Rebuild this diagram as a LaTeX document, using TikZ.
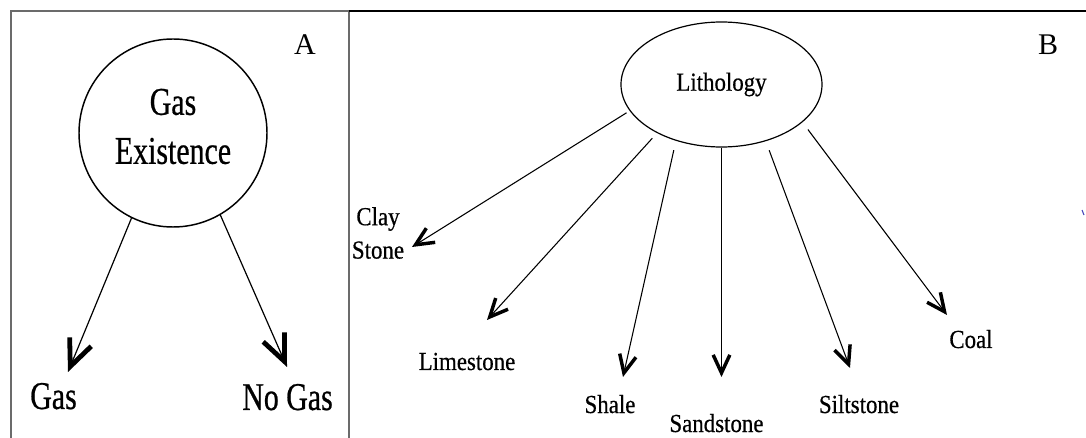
\documentclass[tikz,border=0pt]{standalone}
\usepackage{fontspec}
\setmainfont{Liberation Serif}
\newfontfamily\condA[FakeStretch=0.76,FakeBold=0.6]{Liberation Serif}
\newfontfamily\condB[FakeStretch=0.88,FakeBold=0.5]{Liberation Serif}
\usetikzlibrary{arrows.meta,shapes.geometric}

\begin{document}
\begin{tikzpicture}[x=0.75pt,y=-0.75pt,
  frame/.style={draw=black!58,line width=1.6pt},
  bigtext/.style={font=\condA\fontsize{29.5}{36.75}\selectfont},
  smalltext/.style={font=\condB\fontsize{19.5}{25}\selectfont},
  tag/.style={font=\fontsize{22.5}{27}\selectfont,anchor=base,inner sep=0pt},
  lbl/.style={smalltext,anchor=base,inner sep=0pt},
  biglbl/.style={bigtext,anchor=base,inner sep=0pt},
  bigarrow/.style={-{Straight Barb[length=20pt,width=17.5pt,line width=3.6pt]},line width=0.9pt},
  smallarrow/.style={-{Straight Barb[length=13.5pt,width=12.5pt,line width=2.6pt]},line width=0.8pt},
]
\useasboundingbox (0,0) rectangle (1086,438);

% panel frames
\draw[frame] (11,438) -- (11,11) -- (349,11);
\draw[frame] (349,11) -- (349,438);
\draw[black,line width=0.9pt] (349,11) -- (1086,11);

% panel tags
\node[tag] (tagA) at (305,55) {A};
\node[tag] (tagB) at (1048,55) {B};

% panel A: gas existence
\node[circle,draw,line width=1.1pt,minimum size=141pt,inner sep=0pt] (ge) at (173,133) {};
\node[bigtext,align=center,inner sep=0pt] (getext) at (173,126.5) {Gas\\Existence};
\node[biglbl] (gas) at (53.5,409) {Gas};
\node[biglbl] (nogas) at (287.5,410) {No Gas};
\coordinate (tipGas) at (68,372);
\coordinate (tipNoGas) at (287,367);
\draw[bigarrow] (ge.244.8) -- (tipGas);
\draw[bigarrow] (ge.300.6) -- (tipNoGas);

% panel B: lithology
\node[ellipse,draw,line width=0.9pt,minimum width=150.75pt,minimum height=93.75pt,inner sep=0pt,smalltext] (lith) at (721.5,84.5) {Lithology};
\node[smalltext,align=center,inner sep=0pt] (clay) at (378,233) {Clay\\Stone};
\node[lbl] (lime) at (467,370) {Limestone};
\node[lbl] (shale) at (610,413) {Shale};
\node[lbl] (sand) at (716.5,432) {Sandstone};
\node[lbl] (silt) at (859,413) {Siltstone};
\node[lbl] (coal) at (971,348) {Coal};

\coordinate (tipClay) at (412,247);
\coordinate (tipLime) at (487,320);
\coordinate (tipShale) at (623,377);
\coordinate (tipSand) at (721.5,377);
\coordinate (tipSilt) at (850,368);
\coordinate (tipCoal) at (947,315);

\draw[smallarrow,shorten <=2.7pt] (lith.196.2) -- (tipClay);
\draw[smallarrow,shorten <=5.2pt] (lith.217.1) -- (tipLime);
\draw[smallarrow,shorten <=7.2pt] (lith.231.5) -- (tipShale);
\draw[smallarrow] (lith.270) -- (tipSand);
\draw[smallarrow,shorten <=7.2pt] (lith.308.5) -- (tipSilt);
\draw[smallarrow,shorten <=6.8pt] (lith.335.6) -- (tipCoal);

% small stray mark at the right edge
\draw[blue!45!gray,line width=0.8pt] (1082,210) -- (1084,215);
\end{tikzpicture}
\end{document}
